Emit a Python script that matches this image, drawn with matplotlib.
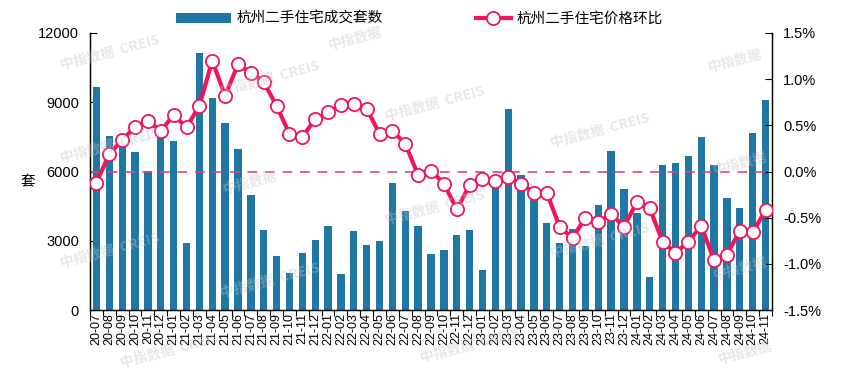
import matplotlib
matplotlib.use("Agg")
import matplotlib.pyplot as plt
import numpy as np
from matplotlib.ticker import FixedLocator, FuncFormatter

months = ["20-07","20-08","20-09","20-10","20-11","20-12",
          "21-01","21-02","21-03","21-04","21-05","21-06","21-07","21-08","21-09","21-10","21-11","21-12",
          "22-01","22-02","22-03","22-04","22-05","22-06","22-07","22-08","22-09","22-10","22-11","22-12",
          "23-01","23-02","23-03","23-04","23-05","23-06","23-07","23-08","23-09","23-10","23-11","23-12",
          "24-01","24-02","24-03","24-04","24-05","24-06","24-07","24-08","24-09","24-10","24-11"]

volume = [9680, 7550, 7150, 6860, 6020, 7560,
          7340, 2920, 11120, 9200, 8120, 6990, 5000, 3480, 2360, 1620, 2490, 3040,
          3640, 1560, 3440, 2820, 3010, 5520, 4300, 3640, 2430, 2600, 3250, 3460,
          1740, 5500, 8710, 5850, 4800, 3790, 2920, 3510, 2790, 4550, 6900, 5250,
          4220, 1450, 6290, 6380, 6670, 7500, 6290, 4870, 4400, 7670, 9100]

price_mom = [-0.12, 0.19, 0.34, 0.48, 0.55, 0.44,
             0.61, 0.48, 0.71, 1.20, 0.82, 1.16, 1.07, 0.97, 0.71, 0.41, 0.37, 0.57,
             0.64, 0.72, 0.73, 0.68, 0.41, 0.44, 0.30, -0.04, 0.01, -0.13, -0.41, -0.15,
             -0.08, -0.10, -0.06, -0.13, -0.23, -0.23, -0.60, -0.72, -0.50, -0.55, -0.46, -0.60,
             -0.33, -0.40, -0.76, -0.88, -0.76, -0.59, -0.96, -0.90, -0.64, -0.66, -0.42]

bar_label = "杭州二手住宅成交套数"
line_label = "杭州二手住宅价格环比"
y_left_label = "套"
watermark_long = "中指数据  CREIS"
watermark_short = "中指数据"

cjk = ["Noto Sans CJK SC", "DejaVu Sans"]
num_reg = ["Liberation Sans", "DejaVu Sans"]

bar_color = "#1f77a3"
line_color = "#f0145a"

fig = plt.figure(figsize=(8.45, 3.72), dpi=100)
ax = fig.add_axes([90/845, 1-310/372, (772-90)/845, (310-33)/372])
ax2 = ax.twinx()

x = np.arange(len(months))

bars = ax.bar(x, volume, width=0.57, color=bar_color, label=bar_label, zorder=2)
ax.set_xlim(-0.5, len(months) - 0.5)
ax.set_ylim(0, 12000)
ax.set_yticks([0, 3000, 6000, 9000, 12000])
ax.yaxis.set_major_formatter(FuncFormatter(lambda v, p: f"{int(v)}"))
for lab in ax.get_yticklabels():
    lab.set_family(num_reg)
    lab.set_fontsize(10.5)
ax.tick_params(axis="y", direction="in", length=5, width=0.8, pad=8)

# x ticks: tick marks at boundaries, labels at centres
ax.xaxis.set_major_locator(FixedLocator(np.arange(len(months) + 1) - 0.5))
ax.xaxis.set_major_formatter(FuncFormatter(lambda v, p: ""))
ax.xaxis.set_minor_locator(FixedLocator(x))
ax.set_xticklabels(months, minor=True, rotation=90, fontsize=9, family=num_reg)
ax.tick_params(axis="x", which="major", direction="out", length=4, width=0.8)
ax.tick_params(axis="x", which="minor", length=0, pad=2)

fig.text(28/845, 1-182/372, y_left_label, family=cjk, fontsize=10.5,
         ha="center", va="center")

ax2.set_ylim(-1.5, 1.5)
ax2.set_yticks([-1.5, -1.0, -0.5, 0.0, 0.5, 1.0, 1.5])
ax2.yaxis.set_major_formatter(FuncFormatter(lambda v, p: f"{v:.1f}%"))
for lab in ax2.get_yticklabels():
    lab.set_family(num_reg)
    lab.set_fontsize(10.5)
ax2.tick_params(axis="y", direction="in", length=5, width=0.8, pad=8)
ax2.axhline(0, color="#e6437f", lw=1.4, ls=(0, (5, 4)), alpha=0.85, zorder=1)
ln, = ax2.plot(x, price_mom, color=line_color, lw=3, marker="o", markersize=9.5,
               markerfacecolor="white", markeredgecolor=line_color, markeredgewidth=1.3,
               label=line_label, zorder=3)

for a in (ax, ax2):
    a.spines["top"].set_visible(False)
    for s in ("left", "right", "bottom"):
        a.spines[s].set_linewidth(0.9)
        a.spines[s].set_color("black")

wm_pos = [(110, 52, watermark_long), (270, 78, watermark_long), (355, 38, watermark_short),
          (435, 103, watermark_long), (600, 130, watermark_long), (735, 60, watermark_short),
          (110, 145, watermark_long), (250, 182, watermark_short), (435, 207, watermark_long),
          (740, 163, watermark_short), (110, 250, watermark_long), (600, 240, watermark_long),
          (270, 280, watermark_long), (740, 268, watermark_short), (170, 350, watermark_long),
          (470, 345, watermark_long), (745, 352, watermark_short)]
for (px, py, t) in wm_pos:
    fig.text(px/845, 1-py/372, t, fontsize=10, family=cjk, color="#c4c4c4", alpha=0.4,
             rotation=15, ha="center", va="center", fontweight="bold", zorder=10)

leg1 = fig.legend([bars], [bar_label], loc="center left",
                  bbox_to_anchor=(176/845, 1-19/372), frameon=False,
                  prop={"family": cjk, "size": 10.5}, handlelength=3.8, handleheight=0.75,
                  handletextpad=0.35, borderaxespad=0, borderpad=0)
leg2 = fig.legend([ln], [line_label], loc="center left",
                  bbox_to_anchor=(476/845, 1-19/372), frameon=False,
                  prop={"family": cjk, "size": 10.5}, handlelength=2.4,
                  handletextpad=0.35, borderaxespad=0, borderpad=0)

fig.savefig("out.png", dpi=100)
